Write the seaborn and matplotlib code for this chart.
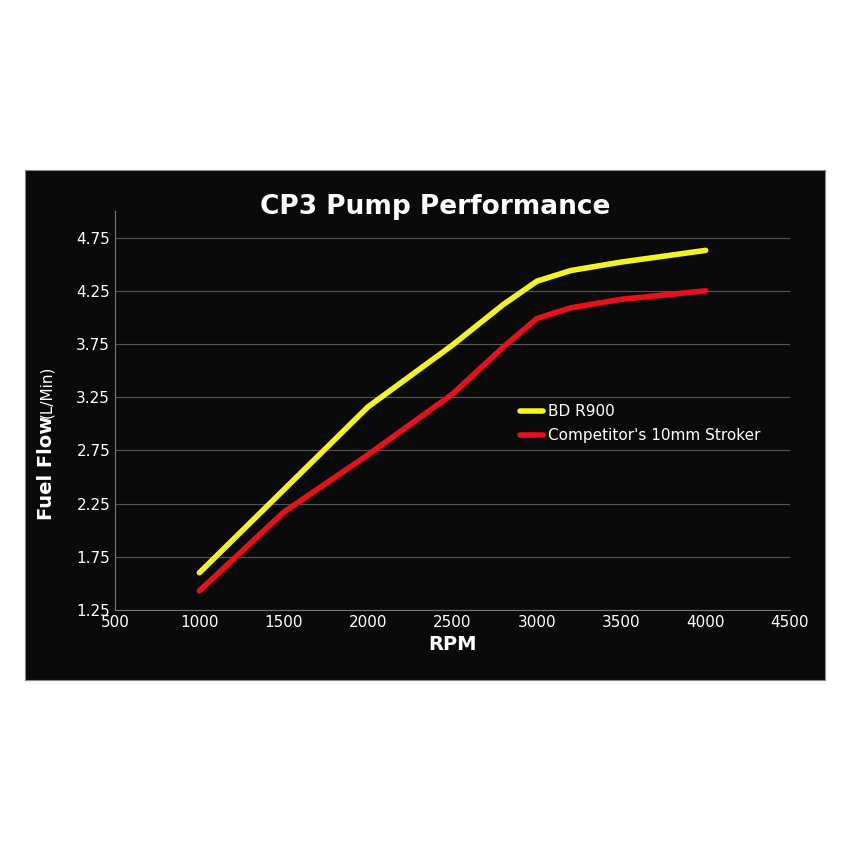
import matplotlib
matplotlib.use("Agg")
import matplotlib.pyplot as plt
import seaborn as sns
import pandas as pd

rpm_bd = [1000, 1500, 2000, 2500, 2800, 3000, 3200, 3500, 4000]
flow_bd = [1.60, 2.38, 3.16, 3.74, 4.12, 4.34, 4.44, 4.52, 4.63]
rpm_comp = [1000, 1250, 1500, 2000, 2500, 2800, 3000, 3200, 3500, 4000]
flow_comp = [1.43, 1.80, 2.17, 2.71, 3.28, 3.72, 3.99, 4.09, 4.17, 4.25]
yticks = [1.25, 1.75, 2.25, 2.75, 3.25, 3.75, 4.25, 4.75]
xticks = [500, 1000, 1500, 2000, 2500, 3000, 3500, 4000, 4500]

df = pd.concat([
    pd.DataFrame({"RPM": rpm_bd, "Flow": flow_bd, "Series": "BD R900"}),
    pd.DataFrame({"RPM": rpm_comp, "Flow": flow_comp, "Series": "Competitor's 10mm Stroker"}),
])

sns.set_style("dark")
fig = plt.figure(figsize=(8.5, 8.5), dpi=100)
fig.patch.set_facecolor("white")
bg = fig.add_axes([25/850, 1-680/850, 800/850, 510/850])
bg.set_facecolor("#0a0a0a")
bg.set_xticks([]); bg.set_yticks([])
for s in bg.spines.values():
    s.set_visible(True); s.set_color("#888888")
bg.set_zorder(0)

ax = fig.add_axes([115/850, 1-610/850, 675/850, 399/850])
ax.set_zorder(2)
ax.set_facecolor("#0a0a0a")
sns.lineplot(data=df, x="RPM", y="Flow", hue="Series",
             palette=["#f5f51e", "#e8101a"], linewidth=4, ax=ax, sort=True)
ax.set_xlim(500, 4500)
ax.set_ylim(1.25, 5.0)
ax.set_xticks(xticks)
ax.set_yticks(yticks)
ax.yaxis.grid(True, color="#555555", lw=0.8)
ax.xaxis.grid(False)
ax.tick_params(colors="white", labelsize=11, length=0)
for s in ["top", "right"]:
    ax.spines[s].set_visible(False)
for s in ["left", "bottom"]:
    ax.spines[s].set_visible(True)
    ax.spines[s].set_color("#777777")
ax.set_xlabel("RPM", color="white", fontsize=14, fontweight="bold")
ax.set_ylabel("")
fig.text(47/850, 1-520/850, "Fuel Flow", rotation=90, color="white", fontsize=14,
         fontweight="bold", ha="center", va="bottom", zorder=5)
fig.text(47/850, 1-418/850, "(L/Min)", rotation=90, color="white", fontsize=11,
         ha="center", va="bottom", zorder=5)
fig.text(435/850, 1-207/850, "CP3 Pump Performance", color="white", fontsize=19,
         fontweight="bold", ha="center", va="center", zorder=5)
leg = ax.legend(loc="upper left", bbox_to_anchor=(0.58, 0.55), frameon=False,
                fontsize=11, handlelength=1.5, handletextpad=0.3, labelspacing=0.6)
for t in leg.get_texts():
    t.set_color("white")
fig.savefig("out.png", dpi=100, facecolor="white")
